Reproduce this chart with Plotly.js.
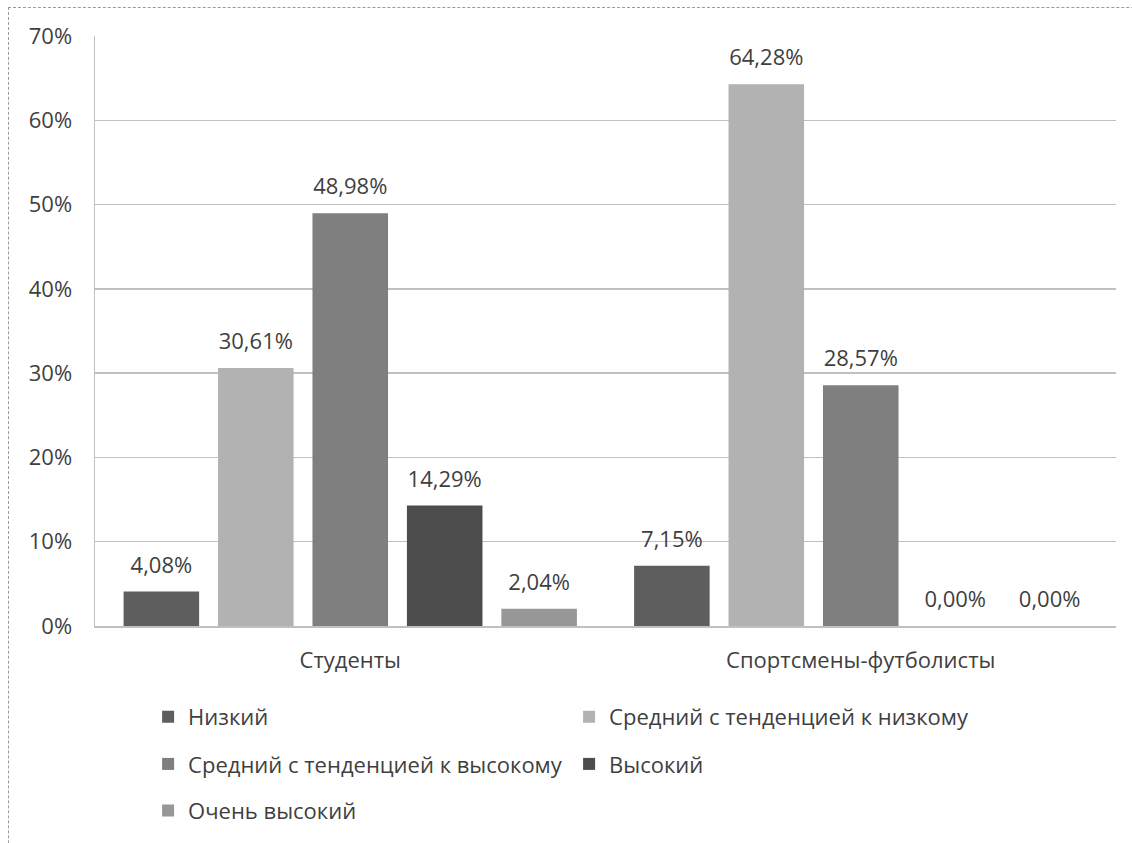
<!DOCTYPE html>
<html><head><meta charset="utf-8">
<script src="https://cdn.plot.ly/plotly-3.0.1.min.js"></script>
<style>
html,body{margin:0;padding:0;background:#fff;overflow:hidden;}
#frame{position:absolute;left:8px;top:7px;width:1300px;height:1000px;border-left:1px dashed #9a9a9a;border-top:1px dashed #9a9a9a;}
#chart{position:absolute;left:0;top:0;width:1132px;height:843px;}
</style></head>
<body>
<div id="frame"></div>
<div id="chart"></div>
<script>
const categories = ['Студенты', 'Спортсмены-футболисты'];
const seriesNames = ['Низкий', 'Средний с тенденцией к низкому', 'Средний с тенденцией к высокому', 'Высокий', 'Очень высокий'];
const nizkiy = [0.0408, 0.0715];
const sredNizk = [0.3061, 0.6428];
const sredVys = [0.4898, 0.2857];
const vysokiy = [0.1429, 0.0000];
const ochenVys = [0.0204, 0.0000];
const yTicks = [0, 0.1, 0.2, 0.3, 0.4, 0.5, 0.6, 0.7];

const seriesValues = [nizkiy, sredNizk, sredVys, vysokiy, ochenVys];
const colors = ['#5e5e5e', '#b2b2b2', '#7f7f7f', '#4d4d4d', '#979797'];
const legendIds = ['legend', 'legend', 'legend2', 'legend2', 'legend3'];
const FONT = 'Open Sans, Liberation Sans, sans-serif';

const traces = seriesValues.map((vals, i) => ({
  type: 'bar',
  name: seriesNames[i],
  x: categories,
  y: vals,
  marker: {color: colors[i]},
  texttemplate: '<span style="font-size:22px">%{y:.2%}</span><br> ',
  textposition: 'outside',
  textfont: {family: FONT, size: 10, color: '#3f3f3f'},
  constraintext: 'none',
  cliponaxis: false,
  legend: legendIds[i],
  hoverinfo: 'skip'
}));

const legendCommon = {
  orientation: 'h',
  xref: 'paper', yref: 'paper',
  xanchor: 'left', yanchor: 'middle',
  font: {family: FONT, size: 22, color: '#3f3f3f'},
  entrywidth: 376,
  traceorder: 'normal',
  bgcolor: 'rgba(0,0,0,0)'
};

const layout = {
  width: 1132, height: 843,
  margin: {l: 95, r: 16, t: 36, b: 216},
  paper_bgcolor: 'rgba(0,0,0,0)',
  plot_bgcolor: 'rgba(0,0,0,0)',
  separators: ', ',
  barmode: 'group',
  bargap: 0.075,
  bargroupgap: 0.2,
  font: {family: FONT, color: '#3f3f3f'},
  xaxis: {
    type: 'category',
    showline: true, linecolor: '#c0c0c0', linewidth: 1.5,
    ticks: '', tickfont: {family: FONT, size: 22, color: '#3f3f3f'},
    ticklabelstandoff: 14
  },
  yaxis: {
    range: [0, 0.7],
    tickvals: yTicks, tickformat: '.0%',
    showgrid: true, gridcolor: '#c0c0c0', gridwidth: 1.5,
    showline: true, linecolor: '#c0c0c0', linewidth: 1.5,
    zeroline: false,
    ticks: '', tickfont: {family: FONT, size: 22, color: '#3f3f3f'},
    ticklabelstandoff: 17
  },
  legend: Object.assign({}, legendCommon, {x: 0.052, y: -0.152}),
  legend2: Object.assign({}, legendCommon, {x: 0.052, y: -0.232}),
  legend3: Object.assign({}, legendCommon, {x: 0.052, y: -0.311}),
  showlegend: true
};

Plotly.newPlot('chart', traces, layout, {displayModeBar: false, staticPlot: true});
</script>
</body></html>
